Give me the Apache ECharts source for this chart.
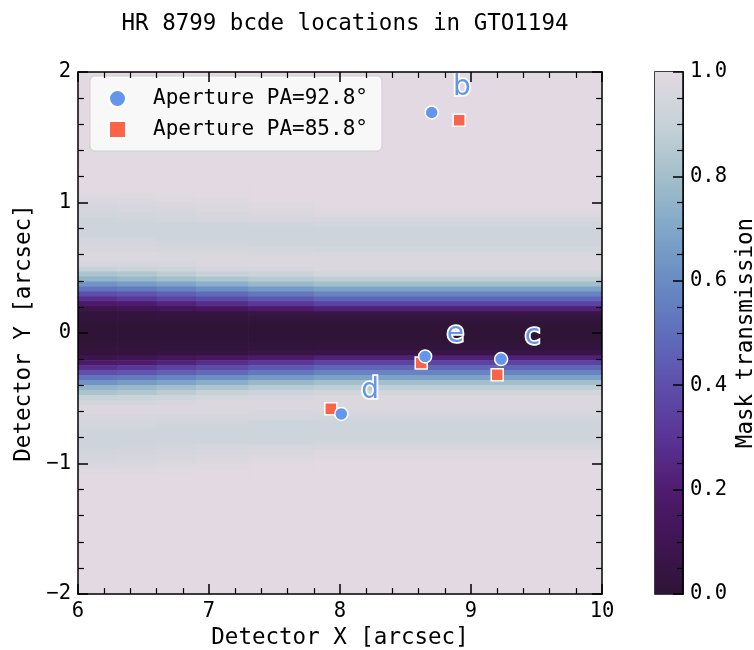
<!DOCTYPE html>
<html><head><meta charset="utf-8">
<script src="https://cdn.jsdelivr.net/npm/echarts@6/dist/echarts.min.js"></script>
<style>html,body{margin:0;padding:0;background:#fff}#c{width:754px;height:650px}</style>
</head><body><div id="c"></div>
<script>
// ================= DATA =================
// Mask transmission map: column edges in detector X (arcsec)
const xEdges = [6, 6.3, 6.6, 6.9, 7.3, 7.8, 10];
// rows are centred on |Y| = k * rowStep (k = 0..30), mask is symmetric about Y = 0
const rowStep = 0.038;
const profileCol1 = [0.00,0.00,0.01,0.02,0.03,0.08,0.18,0.28,0.40,0.52,0.63,0.75,0.82,0.90,0.95,0.97,0.97,0.96,0.95,0.94,0.93,0.93,0.93,0.93,0.94,0.95,0.96,0.975,0.99,1.00,1.00];
const profileCol2 = [0.00,0.00,0.01,0.02,0.03,0.10,0.20,0.31,0.42,0.54,0.66,0.77,0.84,0.91,0.95,0.97,0.97,0.96,0.95,0.94,0.93,0.93,0.93,0.935,0.945,0.955,0.965,0.98,0.99,1.00,1.00];
const profileCol3 = [0.00,0.00,0.01,0.02,0.04,0.12,0.23,0.35,0.45,0.57,0.69,0.80,0.87,0.93,0.96,0.97,0.97,0.95,0.94,0.93,0.93,0.93,0.93,0.94,0.95,0.96,0.97,0.985,0.995,1.00,1.00];
const profileCol4 = [0.00,0.00,0.01,0.02,0.04,0.15,0.27,0.39,0.49,0.61,0.73,0.83,0.90,0.95,0.97,0.97,0.97,0.95,0.94,0.93,0.93,0.93,0.93,0.95,0.96,0.97,0.98,0.99,1.00,1.00,1.00];
const profileCol5 = [0.00,0.00,0.01,0.02,0.05,0.18,0.31,0.43,0.53,0.65,0.77,0.86,0.92,0.96,0.97,0.97,0.96,0.95,0.93,0.93,0.93,0.93,0.935,0.955,0.97,0.98,0.99,1.00,1.00,1.00,1.00];
const profileCol6 = [0.00,0.00,0.01,0.02,0.06,0.22,0.35,0.47,0.57,0.68,0.80,0.88,0.94,0.97,0.97,0.97,0.96,0.94,0.93,0.93,0.93,0.93,0.94,0.96,0.98,0.99,1.00,1.00,1.00,1.00,1.00];

// Planet positions
const planetNames = ['b', 'c', 'd', 'e'];
const pa928X = [8.70, 9.23, 8.01, 8.65];
const pa928Y = [1.69, -0.20, -0.62, -0.18];
const pa858X = [8.91, 9.20, 7.93, 8.62];
const pa858Y = [1.63, -0.32, -0.58, -0.23];
const labelX = [8.93, 9.47, 8.23, 8.88];
const labelY = [1.88, -0.03, -0.44, -0.01];

// Tick labels
const xTicks = [6, 7, 8, 9, 10];
const yTicks = [-2, -1, 0, 1, 2];
const cbarTicks = [0.0, 0.2, 0.4, 0.6, 0.8, 1.0];

const seriesNames = ['Aperture PA=92.8°', 'Aperture PA=85.8°'];
const titleText = 'HR 8799 bcde locations in GTO1194';

// ================= STYLE =================
const cmapStops = [
  [0.0, '#2f1436'], [0.1, '#3f1553'], [0.2, '#4f1b6f'], [0.3, '#5a3496'],
  [0.4, '#5e4fab'], [0.5, '#5f6ebc'], [0.6, '#6a8cc3'], [0.7, '#80a7c9'],
  [0.8, '#a3bfcb'], [0.9, '#c6d2d8'], [1.0, '#e2d9e2']
];
function hex2rgb(h) { return [parseInt(h.substr(1,2),16), parseInt(h.substr(3,2),16), parseInt(h.substr(5,2),16)]; }
function cmap(v) {
  v = Math.max(0, Math.min(1, v));
  for (let i = 0; i < cmapStops.length - 1; i++) {
    const a = cmapStops[i], b = cmapStops[i+1];
    if (v <= b[0]) {
      const t = (v - a[0]) / (b[0] - a[0]);
      const ca = hex2rgb(a[1]), cb = hex2rgb(b[1]);
      return 'rgb(' + ca.map((c, j) => Math.round(c + (cb[j] - c) * t)).join(',') + ')';
    }
  }
  return cmapStops[cmapStops.length-1][1];
}
const MONO = 'DejaVu Sans Mono';
const BLUE = '#6495ED', RED = '#FF6347';

// Build mask cells
const profiles = [profileCol1, profileCol2, profileCol3, profileCol4, profileCol5, profileCol6];
const cells = [];
profiles.forEach((prof, c) => {
  prof.forEach((v, k) => {
    const yc = k * rowStep;
    cells.push([xEdges[c], xEdges[c+1], yc - rowStep/2, yc + rowStep/2, v]);
    if (k > 0) cells.push([xEdges[c], xEdges[c+1], -yc - rowStep/2, -yc + rowStep/2, v]);
  });
});

const minusFmt = v => String(v).replace('-', '\u2212');
const tickCommon = {
  axisLine: { show: true, onZero: false, lineStyle: { color: '#000', width: 1.5 } },
  axisTick: { show: true, inside: true, length: 10, lineStyle: { color: '#000', width: 1.5 } },
  minorTick: { show: true, splitNumber: 5, length: 6, lineStyle: { color: '#000', width: 1.2 } },
  splitLine: { show: false }, minorSplitLine: { show: false }, z: 10
};
const labelStyle = { fontFamily: MONO, fontSize: 20.5, color: '#000' };
const nameStyle = { fontFamily: MONO, fontSize: 22.5, color: '#000' };

const chart = echarts.init(document.getElementById('c'), null, { renderer: 'canvas' });
chart.setOption({
  animation: false,
  backgroundColor: '#fff',
  title: { text: titleText, left: 340, top: 8, textAlign: 'center',
    textStyle: { fontFamily: MONO, fontSize: 22.5, fontWeight: 'normal', color: '#000' } },
  legend: {
    data: seriesNames, orient: 'vertical', left: 90, top: 76,
    padding: [12, 14, 11, 18], itemWidth: 17, itemHeight: 17, itemGap: 10,
    backgroundColor: 'rgba(255,255,255,0.8)', borderColor: '#cfcfcf', borderWidth: 1, borderRadius: 5,
    textStyle: { fontFamily: MONO, fontSize: 21, color: '#000', padding: [0, 0, 0, 22] }
  },
  grid: [
    { left: 78, right: 152, top: 72, bottom: 56, show: true, backgroundColor: cmap(1.0), borderWidth: 0,
      containLabel: false, outerBoundsMode: 'none' },
    { left: 655, width: 28, top: 72, bottom: 56, show: true, borderColor: '#000', borderWidth: 1.5,
      containLabel: false, outerBoundsMode: 'none' }
  ],
  xAxis: [
    Object.assign({ gridIndex: 0, type: 'value', position: 'bottom', min: xTicks[0], max: xTicks[xTicks.length-1],
      interval: xTicks[1] - xTicks[0],
      axisLabel: Object.assign({ margin: 7, formatter: minusFmt }, labelStyle),
      name: 'Detector X [arcsec]', nameLocation: 'middle', nameGap: 31, nameTextStyle: nameStyle }, tickCommon),
    Object.assign({ gridIndex: 0, type: 'value', position: 'top', min: xTicks[0], max: xTicks[xTicks.length-1],
      interval: xTicks[1] - xTicks[0], axisLabel: { show: false } }, tickCommon),
    { gridIndex: 1, type: 'value', min: 0, max: 1, show: false }
  ],
  yAxis: [
    Object.assign({ gridIndex: 0, type: 'value', position: 'left', min: yTicks[0], max: yTicks[yTicks.length-1],
      interval: yTicks[1] - yTicks[0],
      axisLabel: Object.assign({ margin: 7, formatter: minusFmt }, labelStyle),
      name: 'Detector Y [arcsec]', nameLocation: 'middle', nameGap: 34, nameRotate: 90, nameTextStyle: nameStyle }, tickCommon),
    Object.assign({ gridIndex: 0, type: 'value', position: 'right', min: yTicks[0], max: yTicks[yTicks.length-1],
      interval: yTicks[1] - yTicks[0], axisLabel: { show: false } }, tickCommon),
    Object.assign({}, tickCommon, {
      gridIndex: 1, type: 'value', position: 'right', min: cbarTicks[0], max: cbarTicks[cbarTicks.length-1],
      interval: cbarTicks[1] - cbarTicks[0],
      axisTick: { show: true, inside: true, length: 10, lineStyle: { color: '#000', width: 1.5 } },
      minorTick: { show: true, splitNumber: 4, length: 6, lineStyle: { color: '#000', width: 1.2 } },
      axisLabel: Object.assign({ margin: 7, formatter: v => v.toFixed(1) }, labelStyle),
      name: 'Mask transmission', nameLocation: 'middle', nameGap: 52, nameRotate: 90, nameTextStyle: nameStyle })
  ],
  series: [
    {
      type: 'custom', name: 'mask', xAxisIndex: 0, yAxisIndex: 0, clip: true, z: 1,
      data: cells, encode: { x: [0, 1], y: [2, 3] }, silent: true,
      renderItem: (params, api) => {
        const p0 = api.coord([api.value(0), api.value(3)]);
        const p1 = api.coord([api.value(1), api.value(2)]);
        return { type: 'rect',
          shape: { x: p0[0], y: p0[1], width: p1[0] - p0[0] + 0.6, height: p1[1] - p0[1] + 0.6 },
          style: { fill: cmap(api.value(4)) } };
      }
    },
    {
      type: 'custom', name: 'colorbar', xAxisIndex: 2, yAxisIndex: 2, z: 1, silent: true,
      data: [[0, 0]],
      renderItem: (params, api) => {
        const p0 = api.coord([0, 1]);
        const p1 = api.coord([1, 0]);
        return { type: 'rect',
          shape: { x: p0[0], y: p0[1], width: p1[0] - p0[0], height: p1[1] - p0[1] },
          style: { fill: new echarts.graphic.LinearGradient(0, 1, 0, 0,
            cmapStops.map(s => ({ offset: s[0], color: s[1] }))) } };
      }
    },
    {
      type: 'scatter', name: seriesNames[1], xAxisIndex: 0, yAxisIndex: 0, z: 5,
      symbol: 'rect', symbolSize: 12,
      itemStyle: { color: RED, borderColor: '#fff', borderWidth: 1.5, opacity: 1 },
      data: pa858X.map((x, i) => [x, pa858Y[i]])
    },
    {
      type: 'scatter', name: seriesNames[0], xAxisIndex: 0, yAxisIndex: 0, z: 5,
      symbol: 'circle', symbolSize: 13,
      itemStyle: { color: BLUE, borderColor: '#fff', borderWidth: 1.5, opacity: 1 },
      data: pa928X.map((x, i) => [x, pa928Y[i]])
    },
    {
      type: 'custom', name: 'labels', xAxisIndex: 0, yAxisIndex: 0, z: 6, silent: true,
      data: labelX.map((x, i) => [x, labelY[i], i]),
      renderItem: (params, api) => {
        const p = api.coord([api.value(0), api.value(1)]);
        return { type: 'text', x: p[0], y: p[1], z2: 10,
          style: { text: planetNames[api.value(2)], fill: BLUE, stroke: '#fff', lineWidth: 3.5,
            font: '28px "DejaVu Sans"', align: 'center', verticalAlign: 'middle' } };
      }
    }
  ]
});
</script></body></html>
